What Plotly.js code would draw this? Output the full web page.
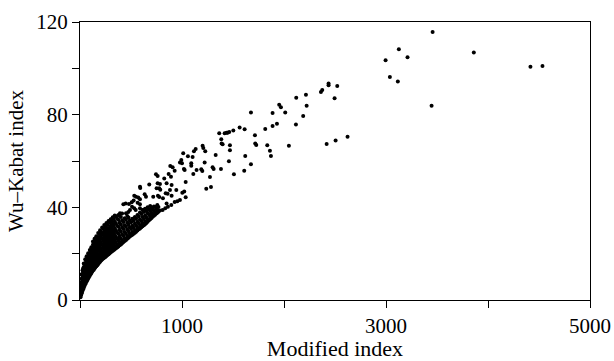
<!DOCTYPE html>
<html><head><meta charset="utf-8">
<script src="https://cdn.plot.ly/plotly-3.0.1.min.js"></script>
<style>html,body{margin:0;padding:0;background:#fff}#chart{width:614px;height:361px}</style>
</head><body><div id="chart"></div><script>
// Dense cloud near the origin, first layer
const denseX = [5,5,5, 12,12,12, 20,20,20,20, 30,30,30,30,30, 44,44,44,44,44, 58,58,58,58,58, 73,73,73,73,73, 88,88,88,88,88, 104,104,104,104,104, 119,119,119,119,119, 135,135,135,135,135,135, 151,151,151,151,151,151, 169,169,169,169,169,169, 188,188,188,188,188,188, 207,207,207,207,207,207, 228,228,228,228,228,228, 249,249,249,249,249,249, 270,270,270,270,270,270, 291,291,291,291,291,291, 311,311,311,311,311,311, 331,331,331,331,331,331, 352,352,352,352,352,352, 376,376,376,376,376, 401,401,401,401,401, 426,426,426,426, 451,451,451,451, 476,476,476,476, 501,501,501, 526,526,526, 550,550,550, 576,576,576, 601,601,601, 626,626,626, 651,651,651, 676,676,676, 701,701,701, 724,724,724, 748,748, 769,769];
const denseY = [1.2,3.1,5.4, 2.3,4.8,7.2, 3.4,6.1,8.8,11.0, 4.6,7.3,9.7,12.1,13.6, 6.0,8.6,11.2,13.7,15.6, 7.4,10.1,12.6,15.0,17.1, 8.6,11.2,13.8,16.2,18.3, 9.9,12.6,15.1,17.6,19.7, 11.1,13.7,16.2,18.7,21.0, 12.2,14.7,17.2,19.7,22.1, 13.1,15.6,18.1,20.6,23.0,24.6, 14.1,16.6,19.1,21.6,24.0,25.7, 15.0,17.6,20.1,22.6,25.1,26.8, 16.1,18.6,21.1,23.6,26.2,28.5, 17.0,19.6,22.1,24.6,27.1,29.4, 17.9,20.5,23.0,25.6,28.1,30.8, 18.6,21.1,23.7,26.2,28.7,31.5, 19.4,22.0,24.6,27.1,29.6,32.4, 20.2,22.7,25.2,27.7,30.3,33.4, 20.9,23.5,26.1,28.6,31.2,34.0, 21.6,24.1,26.7,29.2,32.1,35.0, 22.3,24.8,27.3,30.1,33.1,36.1, 23.1,25.7,28.6,31.6,34.6, 24.0,26.6,29.6,32.6,35.8, 25.0,27.7,30.7,33.7, 25.9,28.6,31.6,34.6, 26.9,29.7,32.6,35.6, 27.8,30.6,33.6, 28.6,31.2,34.2, 29.5,32.2,35.1, 30.5,33.1,36.0, 31.4,34.1,37.1, 32.3,35.0,38.0, 33.2,35.6,38.4, 34.4,36.9,39.1, 35.4,37.6,39.6, 36.4,38.5,40.4, 37.3,39.5, 38.1,40.1];

// Dense cloud, second layer (dots lying between the first layer's dots)
const dense2X = [9,9,9,9, 16,16,16,16,16, 25,25,25,25,25, 37,37,37,37,37,37, 51,51,51,51,51,51, 65,65,65,65,65,65, 80,80,80,80,80,80, 96,96,96,96,96,96, 111,111,111,111,111,111, 127,127,127,127,127,127,127, 143,143,143,143,143,143,143, 160,160,160,160,160,160,160, 178,178,178,178,178,178,178, 197,197,197,197,197,197,197, 217,217,217,217,217,217,217, 238,238,238,238,238,238,238, 259,259,259,259,259,259,259, 280,280,280,280,280,280,280, 301,301,301,301,301,301,301, 321,321,321,321,321,321,321, 341,341,341,341,341,341,341, 364,364,364,364,364,364, 388,388,388,388,388,388, 413,413,413,413,413,413, 438,438,438,438,438, 463,463,463,463,463, 488,488,488,488, 513,513,513,513, 538,538,538,538, 563,563,563,563, 588,588,588,588, 613,613,613,613, 638,638,638,638, 663,663,663,663, 688,688,688,688, 712,712,712, 736,736,736, 758,758,758];
const dense2Y = [2.0,3.2,5.4,7.5, 2.9,4.1,6.7,9.2,11.1, 4.0,5.2,7.9,10.5,12.8, 5.3,6.5,9.2,11.7,14.2,15.8, 6.8,8.0,10.6,13.1,15.6,17.6, 8.0,9.2,11.9,14.4,16.8,18.9, 9.3,10.5,13.1,15.7,18.1,20.2, 10.5,11.7,14.4,16.9,19.4,21.6, 11.7,12.9,15.4,17.9,20.4,22.8, 12.7,13.9,16.4,18.9,21.4,23.8,25.2, 13.6,14.8,17.3,19.8,22.3,24.7,26.4, 14.6,15.8,18.3,20.8,23.3,25.8,27.5, 15.5,16.7,19.3,21.8,24.3,26.9,28.9, 16.5,17.7,20.3,22.8,25.3,27.8,30.1, 17.5,18.7,21.2,23.8,26.3,28.8,31.3, 18.2,19.4,22.0,24.6,27.1,29.6,32.4, 19.0,20.2,22.8,25.3,27.9,30.4,33.2, 19.8,21.0,23.6,26.1,28.6,31.1,34.1, 20.6,21.8,24.3,26.9,29.4,32.0,34.9, 21.3,22.5,25.0,27.6,30.1,32.8,35.7, 21.9,23.1,25.7,28.2,30.9,33.8,36.5, 22.7,23.9,26.5,29.2,32.1,35.1, 23.6,24.8,27.4,30.3,33.3,36.4, 24.5,25.7,28.4,31.4,34.4,37.3, 25.5,26.7,29.4,32.3,35.3, 26.4,27.6,30.4,33.3,36.3, 27.4,28.6,31.4,34.3, 28.2,29.4,32.1,35.1, 29.0,30.2,32.9,35.8, 30.0,31.2,33.8,36.7, 30.9,32.1,34.8,37.8, 31.8,33.0,35.8,38.8, 32.7,33.9,36.5,39.4, 33.8,35.0,37.4,40.0, 34.9,36.1,38.4,40.6, 35.9,37.1,39.3, 36.8,38.0,40.2, 37.7,38.9,41.0];

// Scattered points, modified index below 1000
const midX = [980,908,885,1026,928,745,761,869,892,826,679,761,784,898,591,777,787,882,944,1003,1022,840,859,764,777,634,647,532,549,571,588,898,813,954,980,928,895,862,836,810,784,425,448,480,507,526,565,588,510,532,546,490,474,451,588,621,392,376,718,751,849,849,588];
const midY = [59.3,57.3,57.8,56.1,55.8,54.3,53.5,54.4,53.2,52.4,49.9,50.4,50.1,49.6,48.3,48.2,47.6,47.5,47.5,46.3,46.8,46.1,45.9,45.0,44.5,45.6,44.6,45.0,44.6,44.2,43.5,45.0,43.9,42.6,43.2,42.3,41.0,40.3,39.6,38.9,38.6,41.3,41.7,41.4,42.2,42.9,42.0,41.3,40.3,39.6,38.9,38.9,38.0,37.4,39.6,38.9,37.4,36.7,44.6,48.2,50.4,41.7,48.9];

// Scattered points, modified index 1000 and above
const highX = [993,1000,1012,1019,1036,1036,1058,1091,1091,1104,1111,1117,1134,1143,1189,1199,1202,1209,1228,1222,1238,1274,1284,1300,1310,1330,1382,1365,1385,1388,1398,1418,1437,1447,1463,1503,1470,1470,1460,1509,1565,1614,1610,1620,1676,1676,1715,1718,1728,1816,1836,1862,1872,1888,1888,1931,1953,1970,2012,2048,2117,2120,2188,2215,2222,2362,2375,2418,2437,2437,2496,2506,2522,2623,2996,3038,3116,3126,3211,3447,3457,3861,4416,4534];
const highY = [60.4,59.0,63.3,56.6,50.9,44.3,62.0,59.0,58.0,61.7,54.4,64.2,65.2,56.1,56.4,55.7,66.6,65.6,64.2,59.3,48.0,53.1,48.8,57.3,56.6,62.6,56.6,72.0,69.4,67.6,67.2,72.0,72.2,72.2,72.5,73.2,66.8,64.6,59.9,54.3,74.5,73.7,55.8,62.2,80.9,58.6,71.1,67.6,66.9,73.8,66.8,64.4,62.2,80.7,75.1,76.1,84.3,83.2,80.9,66.6,75.8,87.3,79.4,88.6,83.9,89.8,90.7,67.3,93.5,92.7,87.1,68.9,92.4,70.5,103.5,96.3,94.3,108.2,104.8,83.9,115.7,106.8,100.7,101.0];

const xTickVals = [0,1000,2000,3000,4000,5000];
const xTickText = ['','1000','','3000','','5000'];
const yTickVals = [0,20,40,60,80,100,120];
const yTickText = ['0','','40','','80','','120'];

const mk = {color:'#000', size:4};
const traces = [
  {x:denseX, y:denseY, type:'scatter', mode:'markers', marker:mk, hoverinfo:'skip'},
  {x:dense2X, y:dense2Y, type:'scatter', mode:'markers', marker:mk, hoverinfo:'skip'},
  {x:midX, y:midY, type:'scatter', mode:'markers', marker:mk, hoverinfo:'skip'},
  {x:highX, y:highY, type:'scatter', mode:'markers', marker:mk, hoverinfo:'skip'}
];
const serif = '"Liberation Serif", "Times New Roman", serif';
const layout = {
  width:614, height:361,
  margin:{l:80, r:24, t:22, b:61},
  paper_bgcolor:'#fff', plot_bgcolor:'#fff',
  showlegend:false,
  font:{family:serif, color:'#000', size:21},
  xaxis:{range:[0,5000], tickmode:'array', tickvals:xTickVals, ticktext:xTickText,
    ticks:'outside', ticklen:7, tickwidth:1, tickcolor:'#000',
    showline:true, linecolor:'#000', linewidth:1, mirror:true,
    showgrid:false, zeroline:false,
    title:{text:'Modified index', font:{size:22, family:serif}, standoff:0}},
  yaxis:{range:[0,120], tickmode:'array', tickvals:yTickVals, ticktext:yTickText,
    ticks:'outside', ticklen:7, tickwidth:1, tickcolor:'#000',
    showline:true, linecolor:'#000', linewidth:1, mirror:true,
    showgrid:false, zeroline:false,
    title:{text:'Wu–Kabat index', font:{size:21, family:serif}, standoff:6}}
};
Plotly.newPlot('chart', traces, layout, {staticPlot:true, displayModeBar:false});
</script></body></html>
